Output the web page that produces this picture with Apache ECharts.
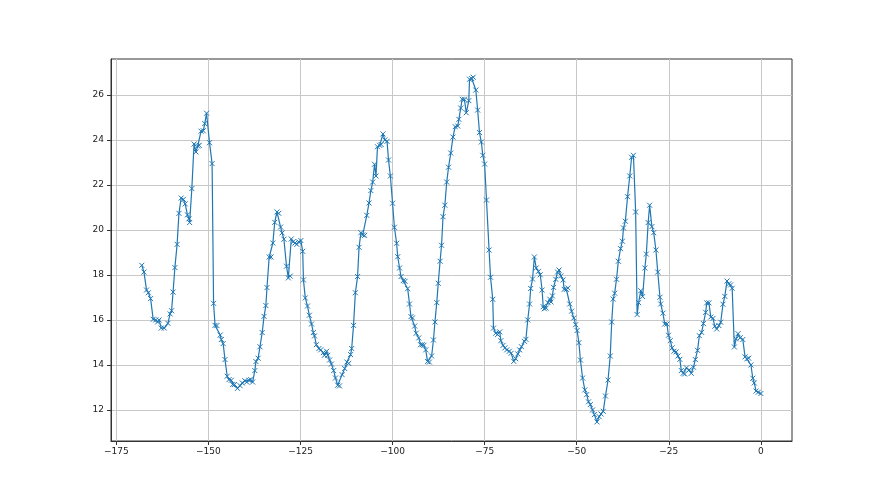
<!DOCTYPE html>
<html><head><meta charset="utf-8">
<script src="https://cdn.jsdelivr.net/npm/echarts@6/dist/echarts.min.js"></script>
<style>html,body{margin:0;padding:0;background:#fff}#c{width:880px;height:495px}</style>
</head><body><div id="c"></div>
<script>
const xs = [
-168.1,-167.5,-166.8,-166.3,-165.7,-165.0,-164.3,-163.8,-163.4,-162.8,-162.0,-161.0,-160.4,-160.0,-159.6,-159.1,-158.5,-158.0,-157.4,-156.8,
-156.3,-155.7,-155.3,-155.1,-154.5,-153.9,-153.4,-152.9,-152.5,-152.0,-151.4,-151.0,-150.5,-149.7,-149.0,-148.6,-148.2,-147.7,-146.8,-146.5,
-146.0,-145.5,-144.9,-144.4,-143.8,-143.4,-142.9,-142.1,-141.4,-140.8,-140.1,-139.6,-139.0,-138.5,-138.0,-137.4,-137.1,-136.5,-136.0,-135.4,
-134.9,-134.4,-134.1,-133.5,-133.0,-132.5,-132.0,-131.4,-130.9,-130.4,-130.0,-129.5,-128.8,-128.3,-127.8,-127.5,-127.0,-126.5,-126.0,-125.5,
-124.9,-124.4,-124.2,-123.7,-123.1,-122.6,-122.0,-121.5,-121.2,-120.7,-120.0,-119.5,-118.8,-118.5,-117.9,-117.6,-117.1,-116.6,-116.0,-115.5,
-114.9,-114.4,-113.7,-113.0,-112.4,-111.9,-111.4,-111.1,-110.6,-110.1,-109.5,-109.1,-108.6,-108.1,-107.6,-107.0,-106.4,-105.9,-105.4,-104.9,
-104.5,-104.1,-103.5,-103.1,-102.6,-102.1,-101.5,-101.1,-100.6,-100.0,-99.5,-98.9,-98.6,-98.1,-97.7,-97.1,-96.6,-95.9,-95.4,-95.0,
-94.6,-94.0,-93.6,-92.9,-92.4,-91.9,-91.5,-91.0,-90.5,-90.0,-89.4,-88.9,-88.5,-88.0,-87.6,-87.1,-86.7,-86.3,-85.8,-85.3,
-84.8,-84.2,-83.6,-83.0,-82.3,-82.0,-81.5,-81.1,-80.5,-80.0,-79.3,-79.1,-78.5,-78.1,-77.4,-76.9,-76.4,-75.9,-75.5,-75.0,
-74.5,-73.8,-73.4,-72.8,-72.6,-72.0,-71.5,-70.9,-70.6,-70.0,-69.5,-69.0,-68.3,-67.8,-67.1,-66.6,-66.0,-65.5,-65.0,-64.2,
-63.8,-63.3,-62.8,-62.5,-62.0,-61.5,-61.0,-60.4,-59.9,-59.4,-59.1,-58.8,-58.3,-57.8,-57.3,-57.0,-56.6,-56.3,-55.7,-55.2,
-54.8,-54.3,-53.7,-53.4,-52.8,-52.4,-51.9,-51.4,-50.8,-50.3,-49.9,-49.4,-49.0,-48.4,-47.8,-47.3,-46.8,-46.3,-45.7,-45.2,
-44.5,-43.9,-43.4,-42.8,-42.2,-41.5,-40.9,-40.5,-40.1,-39.7,-39.2,-38.7,-38.1,-37.6,-37.3,-36.8,-36.2,-35.6,-35.1,-34.6,
-34.0,-33.6,-33.2,-32.6,-32.1,-31.5,-31.1,-30.6,-30.2,-29.6,-29.1,-28.5,-28.0,-27.4,-27.2,-26.6,-26.1,-25.5,-25.1,-24.6,
-24.1,-23.6,-23.0,-22.5,-22.0,-21.6,-21.1,-20.7,-20.2,-19.5,-18.9,-18.3,-17.8,-17.2,-16.7,-16.1,-15.6,-15.0,-14.7,-14.1,
-13.6,-13.0,-12.5,-12.0,-11.4,-10.9,-10.3,-9.8,-9.2,-8.7,-8.2,-7.8,-7.2,-6.7,-6.2,-5.6,-4.9,-4.3,-3.8,-3.3,
-2.7,-2.2,-1.8,-1.3,-0.7,0.0
];
const ys = [
18.43,18.13,17.33,17.21,16.95,16.03,16.0,15.91,16.0,15.64,15.64,15.85,16.27,16.41,17.24,18.33,19.36,20.74,21.42,21.36,
21.16,20.67,20.5,20.33,21.84,23.82,23.47,23.73,23.76,24.39,24.41,24.73,25.19,23.88,22.95,16.74,15.76,15.75,15.33,15.13,
14.95,14.24,13.5,13.35,13.32,13.13,13.13,12.96,13.08,13.2,13.3,13.24,13.32,13.35,13.24,13.75,14.15,14.3,14.81,15.44,
16.16,16.64,17.44,18.8,18.8,19.42,20.34,20.8,20.74,20.13,19.87,19.59,18.39,17.87,17.95,19.6,19.48,19.42,19.36,19.47,
19.53,19.05,17.78,16.98,16.62,16.21,15.82,15.44,15.29,14.9,14.73,14.67,14.55,14.43,14.61,14.43,14.22,14.04,13.75,13.42,
13.1,13.07,13.57,13.84,14.13,14.07,14.46,14.73,15.76,17.21,17.93,19.23,19.88,19.78,19.76,20.65,21.2,21.75,22.13,22.92,
22.4,23.7,23.76,23.8,24.27,24.0,23.94,23.11,22.4,21.19,20.12,19.41,18.81,18.31,17.93,17.75,17.72,17.39,16.71,16.15,
16.09,15.73,15.41,15.2,14.9,14.9,14.87,14.67,14.15,14.13,14.4,15.11,15.91,16.77,17.63,18.61,19.32,20.59,21.1,22.13,
22.79,23.42,24.13,24.59,24.62,24.92,25.42,25.81,25.81,25.21,25.75,26.7,26.73,26.79,26.22,25.33,24.33,23.91,23.32,22.93,
21.33,19.11,17.9,16.92,15.64,15.41,15.35,15.47,15.08,14.87,14.76,14.67,14.61,14.52,14.16,14.28,14.49,14.67,14.81,15.05,
15.14,16.0,16.71,17.4,17.82,18.8,18.31,18.16,18.01,17.33,16.59,16.5,16.53,16.77,16.92,16.8,17.07,17.45,17.81,18.13,
18.22,17.96,17.78,17.36,17.36,17.42,16.71,16.39,16.09,15.79,15.53,14.99,14.22,13.42,12.89,12.68,12.36,12.24,12.0,11.79,
11.47,11.7,11.82,11.94,12.62,13.33,14.4,15.91,16.93,17.19,17.81,18.61,19.17,19.5,20.09,20.39,21.48,22.4,23.23,23.32,
20.8,16.24,16.77,17.3,17.04,18.31,18.93,20.33,21.1,20.15,19.88,19.11,18.13,17.01,16.71,16.3,15.82,15.82,15.32,15.08,
14.76,14.61,14.58,14.4,14.25,13.75,13.63,13.6,13.87,13.78,13.63,13.9,14.24,14.65,15.3,15.45,15.84,16.34,16.76,16.76,
16.13,16.07,15.72,15.6,15.75,15.9,16.7,17.05,17.73,17.61,17.56,17.41,14.8,15.16,15.39,15.21,15.13,14.36,14.27,14.3,
14.0,13.41,13.2,12.84,12.79,12.73
];
const xTicks = [-175,-150,-125,-100,-75,-50,-25,0];
const yTicks = [12,14,16,18,20,22,24,26];

const data = xs.map((x, i) => [x, ys[i]]);
const fmt = v => String(v).replace('-', '\u2212');
const axisCommon = {
  axisLine: {show: true, onZero: false, lineStyle: {color: '#333', width: 1}},
  axisTick: {show: true, length: 4, lineStyle: {color: '#333', width: 1}},
  splitLine: {show: true, lineStyle: {color: '#c8c8c8', width: 1}},
  axisLabel: {color: '#222', fontSize: 9, fontFamily: 'DejaVu Sans', formatter: fmt}
};
const chart = echarts.init(document.getElementById('c'), null, {renderer: 'canvas'});
chart.setOption({
  animation: false,
  backgroundColor: '#fff',
  grid: {left: 111, right: 88, top: 59, bottom: 54, show: true, borderColor: '#333', borderWidth: 1},
  xAxis: Object.assign({}, axisCommon, {
    type: 'value', min: -176.45, max: 8.45,
    axisTick: Object.assign({}, axisCommon.axisTick, {customValues: xTicks}),
    axisLabel: Object.assign({}, axisCommon.axisLabel, {customValues: xTicks, margin: 6})
  }),
  yAxis: Object.assign({}, axisCommon, {
    type: 'value', min: 10.62, max: 27.6,
    axisTick: Object.assign({}, axisCommon.axisTick, {customValues: yTicks}),
    axisLabel: Object.assign({}, axisCommon.axisLabel, {customValues: yTicks, margin: 7})
  }),
  series: [{
    type: 'line',
    data: data,
    showSymbol: true,
    showAllSymbol: true,
    symbol: 'path://M0,0L10,10M10,0L0,10',
    symbolSize: 5,
    lineStyle: {color: '#1f77b4', width: 1.2},
    itemStyle: {color: 'rgba(0,0,0,0)', borderColor: '#1f77b4', borderWidth: 1},
    emphasis: {disabled: true}
  }]
});
</script>
</body></html>
